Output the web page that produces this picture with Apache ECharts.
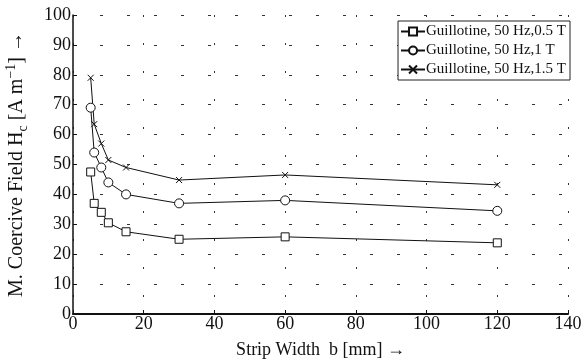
<!DOCTYPE html>
<html>
<head>
<meta charset="utf-8">
<script src="https://cdn.jsdelivr.net/npm/echarts@6/dist/echarts.min.js"></script>
<style>
  html, body { margin: 0; padding: 0; background: #fff; }
  #chart { width: 585px; height: 362px; }
</style>
</head>
<body>
<div id="chart"></div>
<script>
// strip width b [mm]
const stripWidth = [5, 6, 8, 10, 15, 30, 60, 120];
// coercive field Hc [A/m]
const hc05 = [47.5, 37, 34, 30.5, 27.5, 25, 25.8, 23.8];
const hc10 = [69, 54, 49, 44, 40, 37, 38, 34.5];
const hc15 = [79, 63.5, 57, 51.5, 49, 44.8, 46.5, 43.2];
const seriesNames = [
  "Guillotine, 50 Hz,0.5 T",
  "Guillotine, 50 Hz,1 T",
  "Guillotine, 50 Hz,1.5 T",
];

const font = "Liberation Serif";
const pairs = (ys) => stripWidth.map((x, i) => [x, ys[i]]);

const chart = echarts.init(document.getElementById("chart"));

function lineSeries(name, ys, symbol, size) {
  return {
    name: name,
    type: "line",
    data: pairs(ys),
    symbol: symbol,
    symbolSize: size,
    showSymbol: true,
    color: "#111",
    lineStyle: { color: "#111", width: 1 },
    itemStyle: { color: "#fff", borderColor: "#111", borderWidth: 1 },
    emphasis: { disabled: true },
    animation: false,
  };
}

const option = {
  backgroundColor: "#fff",
  textStyle: { fontFamily: font },
  grid: { left: 73, right: 17, top: 15, bottom: 48, containLabel: false, outerBoundsMode: "none" },
  legend: {
    orient: "vertical",
    right: 15,
    top: 21,
    padding: [3, 4, 3, 2],
    itemGap: 4,
    itemWidth: 24,
    itemHeight: 10,
    backgroundColor: "#fff",
    borderColor: "#222",
    borderWidth: 1,
    textStyle: { fontFamily: font, fontSize: 15, color: "#111", padding: [0, 0, 0, -4] },
    data: seriesNames,
  },
  xAxis: {
    type: "value",
    min: 0,
    max: 140,
    interval: 20,
    name: "Strip Width  b [mm] \u2192",
    nameLocation: "middle",
    nameGap: 27,
    nameTextStyle: { fontFamily: font, fontSize: 18, color: "#111" },
    axisLine: { lineStyle: { color: "#111", width: 2 } },
    axisTick: { inside: true, length: 4, lineStyle: { color: "#111" } },
    axisLabel: { fontFamily: font, fontSize: 18, color: "#111", margin: 1 },
    splitLine: { show: true, lineStyle: { color: "#333", width: 1, type: [2, 26] } },
  },
  yAxis: {
    type: "value",
    min: 0,
    max: 100,
    interval: 10,
    name: "{m|M. Coercive Field H}{sub|c}{m| [A m}{sup|\u22121}{m|] \u2192}",
    nameLocation: "middle",
    nameGap: 43,
    nameRotate: 90,
    nameTextStyle: {
      fontFamily: font,
      color: "#111",
      rich: {
        m: { fontFamily: font, fontSize: 20, lineHeight: 26, color: "#111" },
        sub: { fontFamily: font, fontSize: 14, lineHeight: 26, verticalAlign: "bottom", color: "#111" },
        sup: { fontFamily: font, fontSize: 14, lineHeight: 26, verticalAlign: "top", color: "#111" },
      },
    },
    axisLine: { show: true, lineStyle: { color: "#111", width: 1.5 } },
    axisTick: { show: true, inside: true, length: 4, lineStyle: { color: "#111" } },
    axisLabel: { fontFamily: font, fontSize: 18, color: "#111", margin: 2 },
    splitLine: { show: true, lineStyle: { color: "#333", width: 1, type: [3, 24] } },
  },
  series: [
    lineSeries(seriesNames[0], hc05, "rect", 8),
    lineSeries(seriesNames[1], hc10, "circle", 9),
    lineSeries(seriesNames[2], hc15, "path://M0,0L10,10M10,0L0,10", 6),
  ],
};

chart.setOption(option);
</script>
</body>
</html>
